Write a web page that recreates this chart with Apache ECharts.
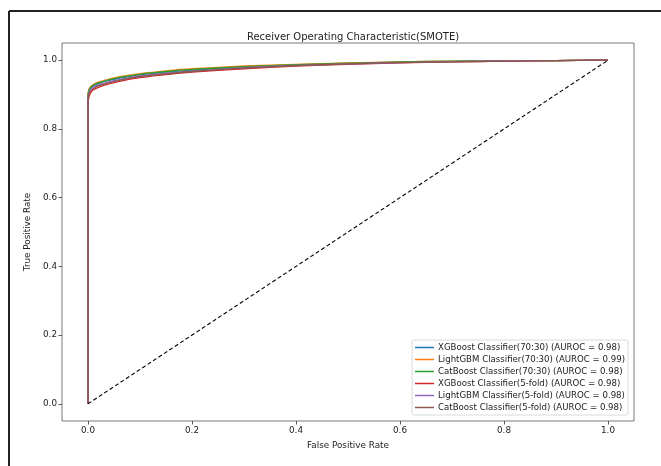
<!DOCTYPE html>
<html>
<head>
<meta charset="utf-8">
<script src="https://cdn.jsdelivr.net/npm/echarts@6/dist/echarts.min.js"></script>
<style>
  html, body { margin: 0; padding: 0; background: #fff; }
  #chart { width: 661px; height: 466px; }
</style>
</head>
<body>
<div id="chart"></div>
<script>
// shared false positive rates for every ROC curve
const fpr = [0, 0, 0.002, 0.005, 0.01, 0.02, 0.04, 0.07, 0.1, 0.15, 0.2, 0.3, 0.4, 0.5, 0.6, 0.7, 0.8, 0.9, 1.0]

const xgb7030 = [0, 0.89, 0.912, 0.919, 0.925, 0.932, 0.941, 0.950, 0.957, 0.965, 0.971, 0.980, 0.986, 0.990, 0.994, 0.996, 0.998, 0.999, 1]
const lgb7030 = [0, 0.90, 0.916, 0.923, 0.929, 0.936, 0.945, 0.954, 0.961, 0.969, 0.975, 0.983, 0.988, 0.992, 0.995, 0.997, 0.998, 0.999, 1]
const cat7030 = [0, 0.895, 0.914, 0.921, 0.927, 0.934, 0.943, 0.952, 0.959, 0.967, 0.973, 0.981, 0.987, 0.991, 0.995, 0.997, 0.998, 0.999, 1]
const xgbFold = [0, 0.87, 0.895, 0.905, 0.913, 0.921, 0.931, 0.941, 0.949, 0.958, 0.965, 0.975, 0.983, 0.988, 0.992, 0.995, 0.997, 0.999, 1]
const lgbFold = [0, 0.885, 0.908, 0.915, 0.921, 0.928, 0.937, 0.946, 0.954, 0.962, 0.968, 0.978, 0.985, 0.989, 0.993, 0.996, 0.998, 0.999, 1]
const catFold = [0, 0.88, 0.902, 0.910, 0.917, 0.925, 0.934, 0.944, 0.952, 0.960, 0.967, 0.977, 0.984, 0.989, 0.993, 0.995, 0.997, 0.999, 1]

const names = [
  'XGBoost Classifier(70:30) (AUROC = 0.98)',
  'LightGBM Classifier(70:30) (AUROC = 0.99)',
  'CatBoost Classifier(70:30) (AUROC = 0.98)',
  'XGBoost Classifier(5-fold) (AUROC = 0.98)',
  'LightGBM Classifier(5-fold) (AUROC = 0.98)',
  'CatBoost Classifier(5-fold) (AUROC = 0.98)'
]
const curves = [xgb7030, lgb7030, cat7030, xgbFold, lgbFold, catFold]
const colors = ['#1f77b4', '#ff7f0e', '#2ca02c', '#d62728', '#9467bd', '#8c564b']

const ticks = [0, 0.2, 0.4, 0.6, 0.8, 1.0]
const chance = [[0, 0], [1, 1]]

const FONT = 'DejaVu Sans'
const chart = echarts.init(document.getElementById('chart'))

const axisCommon = {
  type: 'value',
  min: -0.05,
  max: 1.05,
  nameLocation: 'middle',
  nameTextStyle: { fontFamily: FONT, fontSize: 8.8, color: '#222' },
  axisLine: { show: false, onZero: false },
  splitLine: { show: false },
  axisTick: { show: true, length: 3.5, customValues: ticks, lineStyle: { color: '#333', width: 0.8 } },
  axisLabel: {
    customValues: ticks,
    formatter: v => v.toFixed(1),
    fontFamily: FONT, fontSize: 8.8, color: '#222', margin: 5
  }
}

chart.setOption({
  animation: false,
  color: colors,
  title: {
    text: 'Receiver Operating Characteristic(SMOTE)',
    left: 348, top: 27, textAlign: 'center',
    textStyle: { fontFamily: FONT, fontSize: 10, fontWeight: 'normal', color: '#222' }
  },
  grid: {
    left: 62, right: 27, top: 43, bottom: 45,
    show: true, borderColor: '#555', borderWidth: 0.8, backgroundColor: '#fff'
  },
  xAxis: Object.assign({}, axisCommon, { name: 'False Positive Rate', nameGap: 20 }),
  yAxis: Object.assign({}, axisCommon, { name: 'True Positive Rate', nameGap: 27 }),
  legend: {
    data: names,
    orient: 'vertical',
    right: 33, bottom: 51,
    icon: 'rect', itemWidth: 19, itemHeight: 1.5, itemGap: 3,
    backgroundColor: '#fff', borderColor: '#d0d0d0', borderWidth: 0.8, borderRadius: 2,
    padding: [3, 3, 3, 3],
    textStyle: { fontFamily: FONT, fontSize: 8.6, color: '#222', padding: [0, 0, 0, -1] }
  },
  graphic: [
    { type: 'line', shape: { x1: 9, y1: 11, x2: 9, y2: 466 }, style: { stroke: '#222', lineWidth: 2 } },
    { type: 'line', shape: { x1: 9, y1: 11, x2: 661, y2: 11 }, style: { stroke: '#222', lineWidth: 2 } }
  ],
  series: curves.map((tpr, i) => ({
    name: names[i],
    type: 'line',
    showSymbol: false,
    smooth: 0.3,
    z: 2 + i,
    lineStyle: { width: 1.3, color: colors[i] },
    itemStyle: { color: colors[i] },
    data: fpr.map((x, k) => [x, tpr[k]])
  })).concat([{
    name: 'chance',
    type: 'line',
    showSymbol: false,
    z: 10,
    lineStyle: { type: [4, 2.5], color: '#000', width: 1.1 },
    data: chance
  }])
})
</script>
</body>
</html>
